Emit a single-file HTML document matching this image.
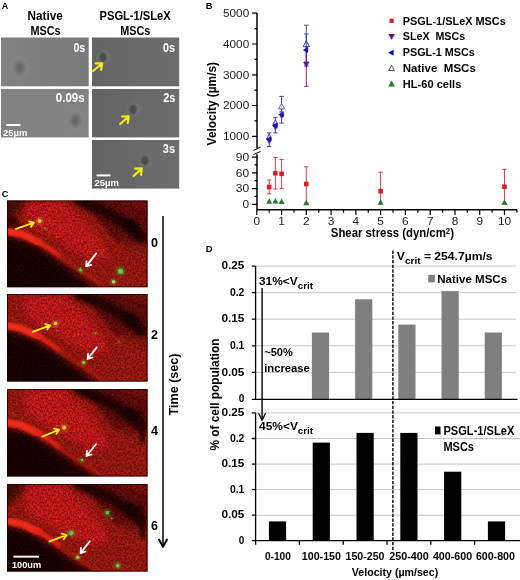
<!DOCTYPE html>
<html><head><meta charset="utf-8"><title>Figure</title>
<style>
html,body{margin:0;padding:0;background:#fff;}
body{width:520px;height:580px;overflow:hidden;font-family:"Liberation Sans",sans-serif;}
svg{display:block;position:absolute;left:0;top:0;font-family:"Liberation Sans",sans-serif;opacity:0.999;will-change:transform;}
</style></head><body>
<svg width="520" height="580" viewBox="0 0 520 580">
<defs>
<filter id="b1" x="-20%" y="-20%" width="140%" height="140%"><feGaussianBlur stdDeviation="1"/></filter>
<filter id="b15" x="-30%" y="-30%" width="160%" height="160%"><feGaussianBlur stdDeviation="1.5"/></filter>
<filter id="b2" x="-20%" y="-20%" width="140%" height="140%"><feGaussianBlur stdDeviation="2"/></filter>
<filter id="b3" x="-30%" y="-30%" width="160%" height="160%"><feGaussianBlur stdDeviation="3"/></filter>
<filter id="b05" x="-20%" y="-20%" width="140%" height="140%"><feGaussianBlur stdDeviation="0.6"/></filter>
<filter id="noise" x="0" y="0" width="100%" height="100%">
  <feTurbulence type="fractalNoise" baseFrequency="0.55" numOctaves="2" seed="3" result="n"/>
  <feColorMatrix in="n" type="matrix" values="0 0 0 0 0  0 0 0 0 0  0 0 0 0 0  1.6 0 0 0 -0.55"/>
</filter>
<filter id="noise2" x="0" y="0" width="100%" height="100%">
  <feTurbulence type="fractalNoise" baseFrequency="0.5" numOctaves="2" seed="11" result="n"/>
  <feColorMatrix in="n" type="matrix" values="0 0 0 0 1  0 0 0 0 0.12  0 0 0 0 0.08  0 1.8 0 0 -0.62"/>
</filter>
<filter id="grain" x="0" y="0" width="100%" height="100%" color-interpolation-filters="sRGB">
  <feTurbulence type="fractalNoise" baseFrequency="0.55" numOctaves="3" seed="7" result="n"/>
  <feColorMatrix in="n" type="matrix" values="1.5 0 0 0 -0.25  1.5 0 0 0 -0.25  1.5 0 0 0 -0.25  0 0 0 0 1" result="n2"/>
  <feComposite in="SourceGraphic" in2="n2" operator="arithmetic" k1="0.7" k2="0.65" k3="0.05" k4="-0.025"/>
</filter>
<linearGradient id="g1" x1="0" x2="1" y1="0" y2="0"><stop offset="0" stop-color="#828282"/><stop offset="1" stop-color="#797979"/></linearGradient>
<linearGradient id="g2" x1="0" x2="1" y1="0" y2="0"><stop offset="0" stop-color="#646464"/><stop offset="1" stop-color="#6d6d6d"/></linearGradient>
<clipPath id="cc"><rect x="0" y="0" width="140.6" height="87"/></clipPath>
</defs>
<rect width="520" height="580" fill="#fff"/>

<g id="panelA">
<text x="1.8" y="8.7" font-size="9.6" font-weight="bold" fill="#000" text-anchor="start" textLength="6.5" lengthAdjust="spacingAndGlyphs">A</text>
<text x="27.6" y="20.1" font-size="12.8" font-weight="bold" fill="#000" text-anchor="start" textLength="35.3" lengthAdjust="spacingAndGlyphs">Native</text>
<text x="30.5" y="35.2" font-size="12.8" font-weight="bold" fill="#000" text-anchor="start" textLength="30.1" lengthAdjust="spacingAndGlyphs">MSCs</text>
<text x="99.6" y="20.1" font-size="12.8" font-weight="bold" fill="#000" text-anchor="start" textLength="71" lengthAdjust="spacingAndGlyphs">PSGL-1/SLeX</text>
<text x="120.2" y="35.2" font-size="12.8" font-weight="bold" fill="#000" text-anchor="start" textLength="30.1" lengthAdjust="spacingAndGlyphs">MSCs</text>
<rect x="1" y="37.5" width="87.7" height="48.8" fill="url(#g1)"/>
<rect x="1" y="89" width="87.7" height="48.4" fill="#828282"/>
<rect x="92" y="37.5" width="87.2" height="48.8" fill="url(#g2)"/>
<rect x="92" y="89" width="87.2" height="48.4" fill="url(#g2)"/>
<rect x="92" y="140" width="87.2" height="48.6" fill="url(#g2)"/>
<ellipse cx="19.6" cy="67.7" rx="8.6" ry="9.6" fill="none" stroke="#878787" stroke-width="1.8" filter="url(#b1)"/><ellipse cx="19.6" cy="67.7" rx="5" ry="6.4" fill="#6e6e6e" filter="url(#b15)"/><ellipse cx="19.6" cy="67.7" rx="2.4" ry="3.6" fill="#666666" filter="url(#b1)"/>
<ellipse cx="75.4" cy="120.2" rx="8.6" ry="9.6" fill="none" stroke="#878787" stroke-width="1.8" filter="url(#b1)"/><ellipse cx="75.4" cy="120.2" rx="5" ry="6.4" fill="#6e6e6e" filter="url(#b15)"/><ellipse cx="75.4" cy="120.2" rx="2.4" ry="3.6" fill="#666666" filter="url(#b1)"/>
<ellipse cx="103.7" cy="57.2" rx="6.2" ry="6.6" fill="#787878" filter="url(#b1)"/><ellipse cx="102.9" cy="57.2" rx="3.9" ry="4.9" fill="#48484a" filter="url(#b1)"/>
<ellipse cx="133.8" cy="109.5" rx="6.2" ry="6.6" fill="#787878" filter="url(#b1)"/><ellipse cx="133" cy="109.5" rx="3.9" ry="4.9" fill="#48484a" filter="url(#b1)"/>
<ellipse cx="145.8" cy="160.6" rx="6.2" ry="6.6" fill="#787878" filter="url(#b1)"/><ellipse cx="145.0" cy="160.6" rx="3.9" ry="4.9" fill="#48484a" filter="url(#b1)"/>
<path d="M93.0,71.0 L102.2,63.3 M101.1,69.8 L102.2,63.3 L95.6,63.3" stroke="#f4ea1c" stroke-width="2.2" fill="none" stroke-linecap="round" stroke-linejoin="round"/>
<path d="M120.2,124.0 L128.7,116.3 M127.8,122.8 L128.7,116.3 L122.1,116.5" stroke="#f4ea1c" stroke-width="2.2" fill="none" stroke-linecap="round" stroke-linejoin="round"/>
<path d="M133.6,176.0 L141.8,168.4 M141.0,174.9 L141.8,168.4 L135.2,168.7" stroke="#f4ea1c" stroke-width="2.2" fill="none" stroke-linecap="round" stroke-linejoin="round"/>
<text x="73.4" y="51.7" font-size="12.4" font-weight="bold" fill="#fff" text-anchor="start" textLength="11.9" lengthAdjust="spacingAndGlyphs">0s</text>
<text x="163" y="51.5" font-size="12.4" font-weight="bold" fill="#fff" text-anchor="start" textLength="12" lengthAdjust="spacingAndGlyphs">0s</text>
<text x="55.8" y="101.7" font-size="12.4" font-weight="bold" fill="#fff" text-anchor="start" textLength="28.9" lengthAdjust="spacingAndGlyphs">0.09s</text>
<text x="163.2" y="101.8" font-size="12.4" font-weight="bold" fill="#fff" text-anchor="start" textLength="12.2" lengthAdjust="spacingAndGlyphs">2s</text>
<text x="162.8" y="153.2" font-size="12.4" font-weight="bold" fill="#fff" text-anchor="start" textLength="12.2" lengthAdjust="spacingAndGlyphs">3s</text>
<rect x="6.4" y="124" width="14" height="2" fill="#fff"/>
<text x="3" y="135.7" font-size="9" font-weight="bold" fill="#fff" text-anchor="start" textLength="24.3" lengthAdjust="spacingAndGlyphs">25µm</text>
<rect x="96.6" y="174.4" width="13.8" height="2" fill="#fff"/>
<text x="94.5" y="186.2" font-size="9" font-weight="bold" fill="#fff" text-anchor="start" textLength="24.3" lengthAdjust="spacingAndGlyphs">25µm</text>
</g>
<g id="panelC">
<text x="1.8" y="197.2" font-size="9.4" font-weight="bold" fill="#000" text-anchor="start" textLength="6.6" lengthAdjust="spacingAndGlyphs">C</text>
<g transform="translate(7.0,200.4)"><clipPath id="cc0"><rect x="0" y="0" width="140.6" height="86.8"/></clipPath>
<g clip-path="url(#cc0)"><g filter="url(#grain)">
<rect x="-10" y="-10" width="160.6" height="106.8" fill="#580b09"/>
<path d="M112,40 L146,44 L146,94 L124,94 Z" fill="#7c1210" filter="url(#b3)"/>
<path d="M-6,-6 L66,-6 L88,16 L106,38 L124,50 L146,58 L146,96 L104,96 L66,66.8 L30,45.8 L-6,30.8 Z" fill="#8e1411" filter="url(#b2)"/>
<path d="M16,2 L54,0 L86,28 L104,56 L86,62 L52,40.8 L20,22.8 Z" fill="#b21913" filter="url(#b3)"/>
<path d="M100,-5 L146,-5 L146,14 L126,6 Z" fill="#6c0f0c" filter="url(#b2)"/>
<path d="M72,0 L98,11 L122,25 L134,37" stroke="#240303" stroke-width="11" fill="none" stroke-linecap="round" filter="url(#b2)"/>
<ellipse cx="124" cy="26" rx="9" ry="6" fill="#160202" filter="url(#b2)" transform="rotate(30 124 26)"/>
<path d="M-6,-6 L22,-6 L10,14 L-6,26 Z" fill="#420706" filter="url(#b3)"/>
<path d="M-6,12 L8,16 L16,28 L-6,27 Z" fill="#3a0605" filter="url(#b2)"/>
<path d="M-6,35.8 L22,43.3 L46,57.8 L66,72.8 L100,98 L-6,98 Z" fill="#1c0303" filter="url(#b2)"/>
<path d="M-6,42.8 L20,50.8 L40,64.8 L60,80.8 L70,98 L-6,98 Z" fill="#120202" filter="url(#b2)"/>
</g>
<path d="M-4,30.3 L14,33.3 L32,41.8" stroke="#ee2c1a" stroke-width="7" fill="none" stroke-linecap="round" filter="url(#b1)"/>
<path d="M30,40.8 L42,47.8 L52,55.3" stroke="#dc2416" stroke-width="4.6" fill="none" stroke-linecap="round" filter="url(#b1)"/>
<path d="M50,54.3 L70,68.3 L94,82.8" stroke="#b01a10" stroke-width="3" fill="none" stroke-linecap="round" filter="url(#b15)" opacity="0.8"/>
<circle cx="32.6" cy="20.6" r="3.6" fill="#ecc634" opacity="0.35" filter="url(#b1)"/><circle cx="32.6" cy="20.6" r="1.9" fill="#ecc634" filter="url(#b05)"/>
<circle cx="73.6" cy="69.7" r="2.8" fill="#46d83c" opacity="0.35" filter="url(#b1)"/><circle cx="73.6" cy="69.7" r="1.5" fill="#46d83c" filter="url(#b05)"/>
<circle cx="113.5" cy="70.8" r="4.8" fill="#46d83c" opacity="0.35" filter="url(#b1)"/><circle cx="113.5" cy="70.8" r="2.5" fill="#46d83c" filter="url(#b05)"/>
<circle cx="106.5" cy="81.4" r="3.2" fill="#9ad870" opacity="0.35" filter="url(#b1)"/><circle cx="106.5" cy="81.4" r="1.7" fill="#9ad870" filter="url(#b05)"/>
<circle cx="38" cy="28" r="1.5" fill="#7a9a30" opacity="0.35" filter="url(#b1)"/><circle cx="38" cy="28" r="0.8" fill="#7a9a30" filter="url(#b05)"/>
</g>
<rect x="0.5" y="0.5" width="139.6" height="85.8" fill="none" stroke="#1a0202" stroke-width="1" opacity="0.75"/>
<path d="M9.0,28.4 L27.0,22.3 M23.9,26.5 L27.0,22.3 L22.0,20.9" stroke="#f4ea1c" stroke-width="1.8" fill="none" stroke-linecap="round" stroke-linejoin="round"/>
<path d="M89.2,53.0 L79.2,66.0 M79.5,60.8 L79.2,66.0 L84.1,64.4" stroke="#fff" stroke-width="1.8" fill="none" stroke-linecap="round" stroke-linejoin="round"/>
</g>
<g transform="translate(7.0,294)"><clipPath id="cc1"><rect x="0" y="0" width="140.6" height="87.6"/></clipPath>
<g clip-path="url(#cc1)"><g filter="url(#grain)">
<rect x="-10" y="-10" width="160.6" height="107.6" fill="#580b09"/>
<path d="M112,40 L146,44 L146,94 L124,94 Z" fill="#7c1210" filter="url(#b3)"/>
<path d="M-6,-6 L66,-6 L88,16 L106,38 L124,50 L146,58 L146,96 L104,96 L66,67.5 L30,46.5 L-6,31.5 Z" fill="#8e1411" filter="url(#b2)"/>
<path d="M16,2 L54,0 L86,28 L104,56 L86,62 L52,41.5 L20,23.5 Z" fill="#b21913" filter="url(#b3)"/>
<path d="M100,-5 L146,-5 L146,14 L126,6 Z" fill="#6c0f0c" filter="url(#b2)"/>
<path d="M72,0 L98,11 L122,25 L134,37" stroke="#240303" stroke-width="11" fill="none" stroke-linecap="round" filter="url(#b2)"/>
<ellipse cx="124" cy="26" rx="9" ry="6" fill="#160202" filter="url(#b2)" transform="rotate(30 124 26)"/>
<path d="M-6,36.5 L22,44.0 L46,58.5 L66,73.5 L100,98 L-6,98 Z" fill="#1c0303" filter="url(#b2)"/>
<path d="M-6,43.5 L20,51.5 L40,65.5 L60,81.5 L70,98 L-6,98 Z" fill="#120202" filter="url(#b2)"/>
</g>
<path d="M-4,31.0 L14,34.0 L32,42.5" stroke="#ee2c1a" stroke-width="7" fill="none" stroke-linecap="round" filter="url(#b1)"/>
<path d="M30,41.5 L42,48.5 L52,56.0" stroke="#dc2416" stroke-width="4.6" fill="none" stroke-linecap="round" filter="url(#b1)"/>
<path d="M50,55.0 L70,69.0 L94,83.5" stroke="#b01a10" stroke-width="3" fill="none" stroke-linecap="round" filter="url(#b15)" opacity="0.8"/>
<circle cx="48.5" cy="29.5" r="3.4" fill="#e0c434" opacity="0.35" filter="url(#b1)"/><circle cx="48.5" cy="29.5" r="1.8" fill="#e0c434" filter="url(#b05)"/>
<circle cx="76.7" cy="68.5" r="2.8" fill="#8ad040" opacity="0.35" filter="url(#b1)"/><circle cx="76.7" cy="68.5" r="1.5" fill="#8ad040" filter="url(#b05)"/>
<circle cx="88.4" cy="39.2" r="2.1" fill="#7a8a28" opacity="0.35" filter="url(#b1)"/><circle cx="88.4" cy="39.2" r="1.1" fill="#7a8a28" filter="url(#b05)"/>
<circle cx="112" cy="48" r="1.7" fill="#6a7a28" opacity="0.35" filter="url(#b1)"/><circle cx="112" cy="48" r="0.9" fill="#6a7a28" filter="url(#b05)"/>
</g>
<rect x="0.5" y="0.5" width="139.6" height="86.6" fill="none" stroke="#1a0202" stroke-width="1" opacity="0.75"/>
<path d="M25.7,37.8 L43.2,31.4 M40.2,35.6 L43.2,31.4 L38.2,30.1" stroke="#f4ea1c" stroke-width="1.8" fill="none" stroke-linecap="round" stroke-linejoin="round"/>
<path d="M89.8,53.4 L80.6,65.0 M81.0,59.8 L80.6,65.0 L85.6,63.5" stroke="#fff" stroke-width="1.8" fill="none" stroke-linecap="round" stroke-linejoin="round"/>
</g>
<g transform="translate(7.0,389)"><clipPath id="cc2"><rect x="0" y="0" width="140.6" height="87.4"/></clipPath>
<g clip-path="url(#cc2)"><g filter="url(#grain)">
<rect x="-10" y="-10" width="160.6" height="107.4" fill="#580b09"/>
<path d="M112,40 L146,44 L146,94 L124,94 Z" fill="#7c1210" filter="url(#b3)"/>
<path d="M-6,-6 L66,-6 L88,16 L106,38 L124,50 L146,58 L146,96 L104,96 L66,69.5 L30,48.5 L-6,33.5 Z" fill="#8e1411" filter="url(#b2)"/>
<path d="M16,2 L54,0 L86,28 L104,56 L86,62 L52,43.5 L20,25.5 Z" fill="#b21913" filter="url(#b3)"/>
<path d="M100,-5 L146,-5 L146,14 L126,6 Z" fill="#6c0f0c" filter="url(#b2)"/>
<path d="M72,0 L98,11 L122,25 L134,37" stroke="#240303" stroke-width="11" fill="none" stroke-linecap="round" filter="url(#b2)"/>
<ellipse cx="124" cy="26" rx="9" ry="6" fill="#160202" filter="url(#b2)" transform="rotate(30 124 26)"/>
<path d="M132,22 L137,52" stroke="#2c0505" stroke-width="6" fill="none" stroke-linecap="round" filter="url(#b2)"/>
<path d="M-6,38.5 L22,46.0 L46,60.5 L66,75.5 L100,98 L-6,98 Z" fill="#1c0303" filter="url(#b2)"/>
<path d="M-6,45.5 L20,53.5 L40,67.5 L60,83.5 L70,98 L-6,98 Z" fill="#120202" filter="url(#b2)"/>
</g>
<path d="M-4,33.0 L14,36.0 L32,44.5" stroke="#ee2c1a" stroke-width="7" fill="none" stroke-linecap="round" filter="url(#b1)"/>
<path d="M30,43.5 L42,50.5 L52,58.0" stroke="#dc2416" stroke-width="4.6" fill="none" stroke-linecap="round" filter="url(#b1)"/>
<path d="M50,57.0 L70,71.0 L94,85.5" stroke="#b01a10" stroke-width="3" fill="none" stroke-linecap="round" filter="url(#b15)" opacity="0.8"/>
<circle cx="57.2" cy="38.5" r="3.6" fill="#e0c434" opacity="0.35" filter="url(#b1)"/><circle cx="57.2" cy="38.5" r="1.9" fill="#e0c434" filter="url(#b05)"/>
<circle cx="75" cy="71" r="2.5" fill="#5ac83a" opacity="0.35" filter="url(#b1)"/><circle cx="75" cy="71" r="1.3" fill="#5ac83a" filter="url(#b05)"/>
</g>
<rect x="0.5" y="0.5" width="139.6" height="86.4" fill="none" stroke="#1a0202" stroke-width="1" opacity="0.75"/>
<path d="M35.4,47.7 L52.1,40.7 M49.3,45.1 L52.1,40.7 L47.0,39.7" stroke="#f4ea1c" stroke-width="1.8" fill="none" stroke-linecap="round" stroke-linejoin="round"/>
<path d="M89.0,55.2 L79.5,67.0 M79.9,61.8 L79.5,67.0 L84.5,65.5" stroke="#fff" stroke-width="1.8" fill="none" stroke-linecap="round" stroke-linejoin="round"/>
</g>
<g transform="translate(7.0,484)"><clipPath id="cc3"><rect x="0" y="0" width="140.6" height="87.6"/></clipPath>
<g clip-path="url(#cc3)"><g filter="url(#grain)">
<rect x="-10" y="-10" width="160.6" height="107.6" fill="#580b09"/>
<path d="M112,40 L146,44 L146,94 L124,94 Z" fill="#7c1210" filter="url(#b3)"/>
<path d="M-6,-6 L66,-6 L88,16 L106,38 L124,50 L146,58 L146,96 L104,96 L66,73 L30,52 L-6,37 Z" fill="#8e1411" filter="url(#b2)"/>
<path d="M16,2 L54,0 L86,28 L104,56 L86,62 L52,47 L20,29 Z" fill="#b21913" filter="url(#b3)"/>
<path d="M100,-5 L146,-5 L146,14 L126,6 Z" fill="#6c0f0c" filter="url(#b2)"/>
<path d="M72,0 L98,11 L122,25 L134,37" stroke="#240303" stroke-width="11" fill="none" stroke-linecap="round" filter="url(#b2)"/>
<ellipse cx="124" cy="26" rx="9" ry="6" fill="#160202" filter="url(#b2)" transform="rotate(30 124 26)"/>
<path d="M132,22 L137,52" stroke="#2c0505" stroke-width="6" fill="none" stroke-linecap="round" filter="url(#b2)"/>
<path d="M-6,-6 L22,-6 L10,14 L-6,26 Z" fill="#420706" filter="url(#b3)"/>
<path d="M-6,42 L22,49.5 L46,64 L66,79 L100,98 L-6,98 Z" fill="#1c0303" filter="url(#b2)"/>
<path d="M-6,49 L20,57 L40,71 L60,87 L70,98 L-6,98 Z" fill="#120202" filter="url(#b2)"/>
</g>
<path d="M-4,36.5 L14,39.5 L32,48" stroke="#ee2c1a" stroke-width="7" fill="none" stroke-linecap="round" filter="url(#b1)"/>
<path d="M30,47 L42,54 L52,61.5" stroke="#dc2416" stroke-width="4.6" fill="none" stroke-linecap="round" filter="url(#b1)"/>
<path d="M50,60.5 L70,74.5 L94,89" stroke="#b01a10" stroke-width="3" fill="none" stroke-linecap="round" filter="url(#b15)" opacity="0.8"/>
<circle cx="64.1" cy="49.1" r="4.2" fill="#58d040" opacity="0.35" filter="url(#b1)"/><circle cx="64.1" cy="49.1" r="2.2" fill="#58d040" filter="url(#b05)"/>
<circle cx="70.8" cy="73.3" r="3.0" fill="#7ad848" opacity="0.35" filter="url(#b1)"/><circle cx="70.8" cy="73.3" r="1.6" fill="#7ad848" filter="url(#b05)"/>
<circle cx="100.4" cy="28.7" r="3.6" fill="#4ec83c" opacity="0.35" filter="url(#b1)"/><circle cx="100.4" cy="28.7" r="1.9" fill="#4ec83c" filter="url(#b05)"/>
<circle cx="104.6" cy="34.3" r="1.9" fill="#5a9a30" opacity="0.35" filter="url(#b1)"/><circle cx="104.6" cy="34.3" r="1.0" fill="#5a9a30" filter="url(#b05)"/>
<circle cx="110.7" cy="81.7" r="3.6" fill="#58c840" opacity="0.35" filter="url(#b1)"/><circle cx="110.7" cy="81.7" r="1.9" fill="#58c840" filter="url(#b05)"/>
</g>
<rect x="0.5" y="0.5" width="139.6" height="86.6" fill="none" stroke="#1a0202" stroke-width="1" opacity="0.75"/>
<path d="M42.4,57.4 L59.7,51.0 M56.7,55.2 L59.7,51.0 L54.7,49.7" stroke="#f4ea1c" stroke-width="1.8" fill="none" stroke-linecap="round" stroke-linejoin="round"/>
<path d="M82.8,57.2 L73.6,69.1 M73.9,63.9 L73.6,69.1 L78.5,67.5" stroke="#fff" stroke-width="1.8" fill="none" stroke-linecap="round" stroke-linejoin="round"/>
<rect x="6.4" y="71.7" width="25.6" height="1.9" fill="#fff"/>
<text x="4.9" y="83.8" font-size="9.8" font-weight="bold" fill="#fff" text-anchor="start" textLength="29.2" lengthAdjust="spacingAndGlyphs">100um</text>
</g>
</g>
<g id="timeaxis">
<path d="M163,216 L163,546" stroke="#000" stroke-width="1.5" fill="none"/>
<path d="M159,539.5 L163,546.8 L167,539.5" stroke="#000" stroke-width="1.9" fill="none" stroke-linecap="round" stroke-linejoin="round"/>
<text x="151" y="247.1" font-size="12.8" font-weight="bold" fill="#000" text-anchor="start" textLength="7" lengthAdjust="spacingAndGlyphs">0</text>
<text x="151" y="338.70000000000005" font-size="12.8" font-weight="bold" fill="#000" text-anchor="start" textLength="7" lengthAdjust="spacingAndGlyphs">2</text>
<text x="151" y="435.3" font-size="12.8" font-weight="bold" fill="#000" text-anchor="start" textLength="7" lengthAdjust="spacingAndGlyphs">4</text>
<text x="151" y="530.2" font-size="12.8" font-weight="bold" fill="#000" text-anchor="start" textLength="7" lengthAdjust="spacingAndGlyphs">6</text>
<text transform="translate(177.6,384.5) rotate(-90)" font-size="12.4" font-weight="bold" text-anchor="middle" textLength="62" lengthAdjust="spacingAndGlyphs">Time (sec)</text>
</g>
<g id="panelB">
<text x="205.8" y="8.7" font-size="9.8" font-weight="bold" fill="#000" text-anchor="start" textLength="6.8" lengthAdjust="spacingAndGlyphs">B</text>
<path d="M257.0,13.1 L257.0,148.5 M257.0,154.2 L257.0,209.8 L517,209.8" stroke="#000" stroke-width="1.5" stroke-linejoin="miter" fill="none"/>
<path d="M253.4,150.4 L260.6,147.2 M253.4,154.6 L260.6,151.4" stroke="#000" stroke-width="1" fill="none"/>
<text x="249.2" y="140.20000000000002" font-size="10.9" font-weight="normal" fill="#1a1a1a" text-anchor="end" textLength="26.2" lengthAdjust="spacingAndGlyphs">1000</text>
<text x="249.2" y="109.43000000000002" font-size="10.9" font-weight="normal" fill="#1a1a1a" text-anchor="end" textLength="26.2" lengthAdjust="spacingAndGlyphs">2000</text>
<text x="249.2" y="78.66000000000003" font-size="10.9" font-weight="normal" fill="#1a1a1a" text-anchor="end" textLength="26.2" lengthAdjust="spacingAndGlyphs">3000</text>
<text x="249.2" y="47.89000000000001" font-size="10.9" font-weight="normal" fill="#1a1a1a" text-anchor="end" textLength="26.2" lengthAdjust="spacingAndGlyphs">4000</text>
<text x="249.2" y="17.12000000000001" font-size="10.9" font-weight="normal" fill="#1a1a1a" text-anchor="end" textLength="26.2" lengthAdjust="spacingAndGlyphs">5000</text>
<text x="249.2" y="208.20000000000002" font-size="10.9" font-weight="normal" fill="#1a1a1a" text-anchor="end" textLength="6.6" lengthAdjust="spacingAndGlyphs">0</text>
<text x="249.2" y="192.45000000000002" font-size="10.9" font-weight="normal" fill="#1a1a1a" text-anchor="end" textLength="13.4" lengthAdjust="spacingAndGlyphs">30</text>
<text x="249.2" y="176.70000000000002" font-size="10.9" font-weight="normal" fill="#1a1a1a" text-anchor="end" textLength="13.4" lengthAdjust="spacingAndGlyphs">60</text>
<text x="249.2" y="160.95000000000002" font-size="10.9" font-weight="normal" fill="#1a1a1a" text-anchor="end" textLength="13.4" lengthAdjust="spacingAndGlyphs">90</text>
<text x="256.8" y="225.3" font-size="10.9" font-weight="normal" fill="#1a1a1a" text-anchor="middle" textLength="6.6" lengthAdjust="spacingAndGlyphs">0</text>
<text x="281.6" y="225.3" font-size="10.9" font-weight="normal" fill="#1a1a1a" text-anchor="middle" textLength="6.6" lengthAdjust="spacingAndGlyphs">1</text>
<text x="306.3" y="225.3" font-size="10.9" font-weight="normal" fill="#1a1a1a" text-anchor="middle" textLength="6.6" lengthAdjust="spacingAndGlyphs">2</text>
<text x="331.1" y="225.3" font-size="10.9" font-weight="normal" fill="#1a1a1a" text-anchor="middle" textLength="6.6" lengthAdjust="spacingAndGlyphs">3</text>
<text x="355.9" y="225.3" font-size="10.9" font-weight="normal" fill="#1a1a1a" text-anchor="middle" textLength="6.6" lengthAdjust="spacingAndGlyphs">4</text>
<text x="380.6" y="225.3" font-size="10.9" font-weight="normal" fill="#1a1a1a" text-anchor="middle" textLength="6.6" lengthAdjust="spacingAndGlyphs">5</text>
<text x="405.4" y="225.3" font-size="10.9" font-weight="normal" fill="#1a1a1a" text-anchor="middle" textLength="6.6" lengthAdjust="spacingAndGlyphs">6</text>
<text x="430.2" y="225.3" font-size="10.9" font-weight="normal" fill="#1a1a1a" text-anchor="middle" textLength="6.6" lengthAdjust="spacingAndGlyphs">7</text>
<text x="455.0" y="225.3" font-size="10.9" font-weight="normal" fill="#1a1a1a" text-anchor="middle" textLength="6.6" lengthAdjust="spacingAndGlyphs">8</text>
<text x="479.7" y="225.3" font-size="10.9" font-weight="normal" fill="#1a1a1a" text-anchor="middle" textLength="6.6" lengthAdjust="spacingAndGlyphs">9</text>
<text x="504.5" y="225.3" font-size="10.9" font-weight="normal" fill="#1a1a1a" text-anchor="middle" textLength="13.2" lengthAdjust="spacingAndGlyphs">10</text>
<path d="M252.0,136.3 L257.0,136.3 M252.0,105.5 L257.0,105.5 M252.0,74.8 L257.0,74.8 M252.0,44.0 L257.0,44.0 M252.0,13.2 L257.0,13.2 M254.4,120.9 L257.0,120.9 M254.4,90.1 L257.0,90.1 M254.4,59.4 L257.0,59.4 M254.4,28.6 L257.0,28.6 M252.0,204.3 L257.0,204.3 M252.0,188.6 L257.0,188.6 M252.0,172.8 L257.0,172.8 M252.0,157.1 L257.0,157.1 M254.4,196.4 L257.0,196.4 M254.4,180.7 L257.0,180.7 M254.4,164.9 L257.0,164.9 M256.8,209.8 L256.8,215 M281.6,209.8 L281.6,215 M306.3,209.8 L306.3,215 M331.1,209.8 L331.1,215 M355.9,209.8 L355.9,215 M380.6,209.8 L380.6,215 M405.4,209.8 L405.4,215 M430.2,209.8 L430.2,215 M455.0,209.8 L455.0,215 M479.7,209.8 L479.7,215 M504.5,209.8 L504.5,215 M269.2,209.8 L269.2,212.8 M294.0,209.8 L294.0,212.8 M318.7,209.8 L318.7,212.8 M343.5,209.8 L343.5,212.8 M368.3,209.8 L368.3,212.8 M393.0,209.8 L393.0,212.8 M417.8,209.8 L417.8,212.8 M442.6,209.8 L442.6,212.8 M467.3,209.8 L467.3,212.8 M492.1,209.8 L492.1,212.8 M516.9,209.8 L516.9,212.8" stroke="#000" stroke-width="1.2" fill="none"/>
<text transform="translate(215.8,103.7) rotate(-90)" font-size="12.5" font-weight="bold" text-anchor="middle" textLength="83.4" lengthAdjust="spacingAndGlyphs">Velocity (µm/s)</text>
<text x="330.8" y="237.2" font-size="12" font-weight="bold" fill="#000" text-anchor="start" textLength="123.2" lengthAdjust="spacingAndGlyphs">Shear stress (dyn/cm<tspan font-size="8.4" dy="-3.4">2</tspan><tspan dy="3.4">)</tspan></text>
<path d="M269.2,180.0 L269.2,193.8 M267.0,180.0 L271.4,180.0 M267.0,193.8 L271.4,193.8" stroke="#d03038" stroke-width="0.9" fill="none"/>
<rect x="266.9" y="184.7" width="4.6" height="4.6" fill="#dc1a24"/>
<path d="M275.4,157.5 L275.4,189.0 M273.2,157.5 L277.6,157.5 M273.2,189.0 L277.6,189.0" stroke="#d03038" stroke-width="0.9" fill="none"/>
<rect x="273.1" y="170.9" width="4.6" height="4.6" fill="#dc1a24"/>
<path d="M281.6,159.4 L281.6,188.6 M279.4,159.4 L283.8,159.4 M279.4,188.6 L283.8,188.6" stroke="#d03038" stroke-width="0.9" fill="none"/>
<rect x="279.3" y="171.5" width="4.6" height="4.6" fill="#dc1a24"/>
<path d="M306.3,166.8 L306.3,203.0 M304.1,166.8 L308.5,166.8 M304.1,203.0 L308.5,203.0" stroke="#d03038" stroke-width="0.9" fill="none"/>
<rect x="304.0" y="181.7" width="4.6" height="4.6" fill="#dc1a24"/>
<path d="M380.6,172.2 L380.6,204.0 M378.4,172.2 L382.8,172.2 M378.4,204.0 L382.8,204.0" stroke="#d03038" stroke-width="0.9" fill="none"/>
<rect x="378.3" y="188.9" width="4.6" height="4.6" fill="#dc1a24"/>
<path d="M504.5,169.4 L504.5,204.0 M502.3,169.4 L506.7,169.4 M502.3,204.0 L506.7,204.0" stroke="#d03038" stroke-width="0.9" fill="none"/>
<rect x="502.2" y="184.4" width="4.6" height="4.6" fill="#dc1a24"/>
<path d="M269.2,198.3 L272.2,203.7 L266.2,203.7 Z" fill="#1f7e2a" stroke="none" stroke-width="0.9"/>
<path d="M275.4,198.0 L278.4,203.4 L272.4,203.4 Z" fill="#1f7e2a" stroke="none" stroke-width="0.9"/>
<path d="M281.6,198.6 L284.6,204.0 L278.6,204.0 Z" fill="#1f7e2a" stroke="none" stroke-width="0.9"/>
<path d="M306.3,199.8 L309.3,205.2 L303.3,205.2 Z" fill="#1f7e2a" stroke="none" stroke-width="0.9"/>
<path d="M380.6,199.3 L383.6,204.7 L377.6,204.7 Z" fill="#1f7e2a" stroke="none" stroke-width="0.9"/>
<path d="M504.5,199.3 L507.5,204.7 L501.5,204.7 Z" fill="#1f7e2a" stroke="none" stroke-width="0.9"/>
<path d="M269.2,132.9 L269.2,146.4 M267.0,132.9 L271.4,132.9 M267.0,146.4 L271.4,146.4" stroke="#3a2a90" stroke-width="0.9" fill="none"/>
<path d="M269.2,134.0 L271.8,138.7 L266.6,138.7 Z" fill="#dde" stroke="#3a3a9a" stroke-width="0.9"/>
<path d="M269.2,144.1 L272.1,138.9 L266.3,138.9 Z" fill="#6a1590"/>
<path d="M265.8,139.2 L271.2,136.2 L271.2,142.2 Z" fill="#1a12b8"/>
<path d="M275.4,117.7 L275.4,132.9 M273.2,117.7 L277.6,117.7 M273.2,132.9 L277.6,132.9" stroke="#3a2a90" stroke-width="0.9" fill="none"/>
<path d="M275.4,119.8 L278.0,124.5 L272.8,124.5 Z" fill="#dde" stroke="#3a3a9a" stroke-width="0.9"/>
<path d="M275.4,130.5 L278.3,125.3 L272.5,125.3 Z" fill="#6a1590"/>
<path d="M272.0,125.6 L277.4,122.6 L277.4,128.6 Z" fill="#1a12b8"/>
<path d="M281.6,96.4 L281.6,112.0 M279.4,96.4 L283.8,96.4 M279.4,112.0 L283.8,112.0" stroke="#333355" stroke-width="0.9" fill="none"/>
<path d="M281.6,108.0 L281.6,123.1 M279.4,108.0 L283.8,108.0 M279.4,123.1 L283.8,123.1" stroke="#3a2a90" stroke-width="0.9" fill="none"/>
<path d="M281.6,103.3 L284.7,108.9 L278.5,108.9 Z" fill="#eef" stroke="#5a5aa8" stroke-width="0.9"/>
<path d="M281.6,119.3 L284.5,114.1 L278.7,114.1 Z" fill="#6a1590"/>
<path d="M278.3,114.6 L283.7,111.6 L283.7,117.6 Z" fill="#1a12b8"/>
<path d="M306.3,25.2 L306.3,62.0 M304.1,25.2 L308.5,25.2 M304.1,62.0 L308.5,62.0" stroke="#333366" stroke-width="0.9" fill="none"/>
<path d="M306.3,34.0 L306.3,66.0 M304.1,34.0 L308.5,34.0 M304.1,66.0 L308.5,66.0" stroke="#2a2ab0" stroke-width="0.9" fill="none"/>
<path d="M306.3,44.0 L306.3,86.3 M304.1,44.0 L308.5,44.0 M304.1,86.3 L308.5,86.3" stroke="#6a1590" stroke-width="0.9" fill="none"/>
<path d="M306.3,67.8 L309.5,62.0 L303.1,62.0 Z" fill="#6a1590"/>
<path d="M302.7,50.0 L308.1,47.0 L308.1,53.0 Z" fill="#1a12b8"/>
<path d="M306.3,40.9 L309.5,46.7 L303.1,46.7 Z" fill="#fff" stroke="#2a2a8a" stroke-width="0.9"/>
<path d="M306.3,41 L306.3,47" stroke="#2a2ab0" stroke-width="0.8"/>
<text x="402.8" y="24.6" font-size="11.5" font-weight="bold" fill="#000" text-anchor="start" textLength="103" lengthAdjust="spacingAndGlyphs" xml:space="preserve">PSGL-1/SLeX MSCs</text>
<text x="402.8" y="40.45" font-size="11.5" font-weight="bold" fill="#000" text-anchor="start" textLength="62.3" lengthAdjust="spacingAndGlyphs" xml:space="preserve">SLeX  MSCs</text>
<text x="402.8" y="56.300000000000004" font-size="11.5" font-weight="bold" fill="#000" text-anchor="start" textLength="72" lengthAdjust="spacingAndGlyphs" xml:space="preserve">PSGL-1 MSCs</text>
<text x="402.8" y="72.14999999999999" font-size="11.5" font-weight="bold" fill="#000" text-anchor="start" textLength="73" lengthAdjust="spacingAndGlyphs" xml:space="preserve">Native  MSCs</text>
<text x="402.8" y="88.0" font-size="11.5" font-weight="bold" fill="#000" text-anchor="start" textLength="58.5" lengthAdjust="spacingAndGlyphs" xml:space="preserve">HL-60 cells</text>
<rect x="389.5" y="18.7" width="4.2" height="4.2" fill="#dc1a24"/>
<path d="M391.6,39.9 L394.9,34.0 L388.3,34.0 Z" fill="#6a1590"/>
<path d="M388.1,52.7 L393.7,49.6 L393.7,55.8 Z" fill="#1a12b8"/>
<path d="M391.6,65.4 L394.5,70.6 L388.7,70.6 Z" fill="#fff" stroke="#444" stroke-width="0.9"/>
<path d="M391.6,80.5 L394.9,86.4 L388.3,86.4 Z" fill="#1f7e2a" stroke="none" stroke-width="0.9"/>
</g>
<g id="panelD">
<text x="205.8" y="252.4" font-size="9.3" font-weight="bold" fill="#000" text-anchor="start" textLength="6.8" lengthAdjust="spacingAndGlyphs">D</text>
<path d="M255.6,372.3 L516,372.3 M255.6,515.2 L520,515.2 M255.6,345.8 L516,345.8 M255.6,489.6 L520,489.6 M255.6,319.2 L516,319.2 M255.6,464.1 L520,464.1 M255.6,292.7 L516,292.7 M255.6,438.5 L520,438.5 M255.6,266.1 L516,266.1 M255.6,412.9 L520,412.9" stroke="#c6c6c6" stroke-width="1" fill="none"/>
<rect x="311.9" y="332.5" width="17.2" height="66.9" fill="#7f7f7f"/>
<rect x="355.1" y="299.3" width="17.2" height="100.1" fill="#7f7f7f"/>
<rect x="398.3" y="324.6" width="17.2" height="74.8" fill="#7f7f7f"/>
<rect x="441.5" y="291.1" width="17.2" height="108.3" fill="#7f7f7f"/>
<rect x="484.7" y="332.5" width="17.2" height="66.9" fill="#7f7f7f"/>
<rect x="268.9" y="521.4" width="17.2" height="19.3" fill="#000"/>
<rect x="312.7" y="442.6" width="17.2" height="98.1" fill="#000"/>
<rect x="356.5" y="432.9" width="17.2" height="107.8" fill="#000"/>
<rect x="400.3" y="432.9" width="17.2" height="107.8" fill="#000"/>
<rect x="444.1" y="471.7" width="17.2" height="69.0" fill="#000"/>
<rect x="487.9" y="521.4" width="17.2" height="19.3" fill="#000"/>
<path d="M255.6,266.1 L255.6,399.4 L517.5,399.4 M255.6,412.9 L255.6,540.7 L520,540.7 M251.79999999999998,399.4 L255.6,399.4 M251.79999999999998,540.7 L255.6,540.7 M251.79999999999998,372.3 L255.6,372.3 M251.79999999999998,515.2 L255.6,515.2 M251.79999999999998,345.8 L255.6,345.8 M251.79999999999998,489.6 L255.6,489.6 M251.79999999999998,319.2 L255.6,319.2 M251.79999999999998,464.1 L255.6,464.1 M251.79999999999998,292.7 L255.6,292.7 M251.79999999999998,438.5 L255.6,438.5 M251.79999999999998,266.1 L255.6,266.1 M251.79999999999998,412.9 L255.6,412.9 M255.6,540.7 L255.6,544.8 M299.4,540.7 L299.4,544.8 M343.2,540.7 L343.2,544.8 M387.0,540.7 L387.0,544.8 M430.8,540.7 L430.8,544.8 M474.6,540.7 L474.6,544.8" stroke="#000" stroke-width="1.3" fill="none"/>
<text x="244.4" y="402.09999999999997" font-size="10.3" font-weight="bold" fill="#000" text-anchor="end" textLength="5.6" lengthAdjust="spacingAndGlyphs">0</text>
<text x="244.4" y="544.0" font-size="10.3" font-weight="bold" fill="#000" text-anchor="end" textLength="5.6" lengthAdjust="spacingAndGlyphs">0</text>
<text x="244.4" y="375.54999999999995" font-size="10.3" font-weight="bold" fill="#000" text-anchor="end" textLength="23" lengthAdjust="spacingAndGlyphs">0.05</text>
<text x="244.4" y="518.42" font-size="10.3" font-weight="bold" fill="#000" text-anchor="end" textLength="23" lengthAdjust="spacingAndGlyphs">0.05</text>
<text x="244.4" y="348.99999999999994" font-size="10.3" font-weight="bold" fill="#000" text-anchor="end" textLength="14.5" lengthAdjust="spacingAndGlyphs">0.1</text>
<text x="244.4" y="492.84" font-size="10.3" font-weight="bold" fill="#000" text-anchor="end" textLength="14.5" lengthAdjust="spacingAndGlyphs">0.1</text>
<text x="244.4" y="322.45" font-size="10.3" font-weight="bold" fill="#000" text-anchor="end" textLength="23" lengthAdjust="spacingAndGlyphs">0.15</text>
<text x="244.4" y="467.25999999999993" font-size="10.3" font-weight="bold" fill="#000" text-anchor="end" textLength="23" lengthAdjust="spacingAndGlyphs">0.15</text>
<text x="244.4" y="295.9" font-size="10.3" font-weight="bold" fill="#000" text-anchor="end" textLength="14.5" lengthAdjust="spacingAndGlyphs">0.2</text>
<text x="244.4" y="441.67999999999995" font-size="10.3" font-weight="bold" fill="#000" text-anchor="end" textLength="14.5" lengthAdjust="spacingAndGlyphs">0.2</text>
<text x="244.4" y="269.34999999999997" font-size="10.3" font-weight="bold" fill="#000" text-anchor="end" textLength="23" lengthAdjust="spacingAndGlyphs">0.25</text>
<text x="244.4" y="416.09999999999997" font-size="10.3" font-weight="bold" fill="#000" text-anchor="end" textLength="23" lengthAdjust="spacingAndGlyphs">0.25</text>
<path d="M392.9,250.6 L392.9,551" stroke="#000" stroke-width="1.4" stroke-dasharray="3.3 1.4" fill="none"/>
<text x="277.9" y="560.3" font-size="10.4" font-weight="bold" fill="#000" text-anchor="middle" textLength="26" lengthAdjust="spacingAndGlyphs">0-100</text>
<text x="321.4" y="560.3" font-size="10.4" font-weight="bold" fill="#000" text-anchor="middle" textLength="39.2" lengthAdjust="spacingAndGlyphs">100-150</text>
<text x="365" y="560.3" font-size="10.4" font-weight="bold" fill="#000" text-anchor="middle" textLength="39" lengthAdjust="spacingAndGlyphs">150-250</text>
<text x="409" y="560.3" font-size="10.4" font-weight="bold" fill="#000" text-anchor="middle" textLength="39.5" lengthAdjust="spacingAndGlyphs">250-400</text>
<text x="452.5" y="560.3" font-size="10.4" font-weight="bold" fill="#000" text-anchor="middle" textLength="39.2" lengthAdjust="spacingAndGlyphs">400-600</text>
<text x="495.4" y="560.3" font-size="10.4" font-weight="bold" fill="#000" text-anchor="middle" textLength="39" lengthAdjust="spacingAndGlyphs">600-800</text>
<text x="351.8" y="576.4" font-size="11" font-weight="bold" fill="#000" text-anchor="start" textLength="86.4" lengthAdjust="spacingAndGlyphs">Velocity (µm/sec)</text>
<text transform="translate(219.4,394.6) rotate(-90)" font-size="12.8" font-weight="bold" text-anchor="middle" textLength="112" lengthAdjust="spacingAndGlyphs">% of cell population</text>
<text x="396.8" y="259.8" font-size="11.6" font-weight="bold" fill="#000" text-anchor="start" textLength="95.8" lengthAdjust="spacingAndGlyphs">V<tspan font-size="9.6" dy="3.8">crit</tspan><tspan dy="-3.8"> = 254.7µm/s</tspan></text>
<text x="259" y="285.1" font-size="11.6" font-weight="bold" fill="#000" text-anchor="start" textLength="54" lengthAdjust="spacingAndGlyphs">31%&lt;V<tspan font-size="9.6" dy="4.2">crit</tspan></text>
<text x="259" y="429.5" font-size="11.8" font-weight="bold" fill="#000" text-anchor="start" textLength="54" lengthAdjust="spacingAndGlyphs">45%&lt;V<tspan font-size="9.6" dy="4.2">crit</tspan></text>
<text x="264.2" y="355.8" font-size="11.6" font-weight="bold" fill="#000" text-anchor="start" textLength="28.6" lengthAdjust="spacingAndGlyphs">~50%</text>
<text x="264.2" y="371.6" font-size="11.6" font-weight="bold" fill="#000" text-anchor="start" textLength="45.6" lengthAdjust="spacingAndGlyphs">increase</text>
<path d="M262.1,288 L262.1,419.6" stroke="#000" stroke-width="1.4" fill="none"/>
<path d="M258.9,413.8 L262.1,420.2 L265.3,413.8" stroke="#000" stroke-width="1.3" fill="none" stroke-linecap="round" stroke-linejoin="round"/>
<rect x="428.2" y="274.8" width="6.7" height="7.6" fill="#7f7f7f"/>
<text x="437.3" y="283" font-size="11.6" font-weight="bold" fill="#000" text-anchor="start" textLength="69.8" lengthAdjust="spacingAndGlyphs">Native MSCs</text>
<rect x="435" y="426.5" width="5.5" height="7.9" fill="#000"/>
<text x="443.4" y="434.7" font-size="11.9" font-weight="bold" fill="#000" text-anchor="start" textLength="71" lengthAdjust="spacingAndGlyphs">PSGL-1/SLeX</text>
<text x="443.4" y="450.5" font-size="11.9" font-weight="bold" fill="#000" text-anchor="start" textLength="30.6" lengthAdjust="spacingAndGlyphs">MSCs</text>
</g>
</svg></body></html>
